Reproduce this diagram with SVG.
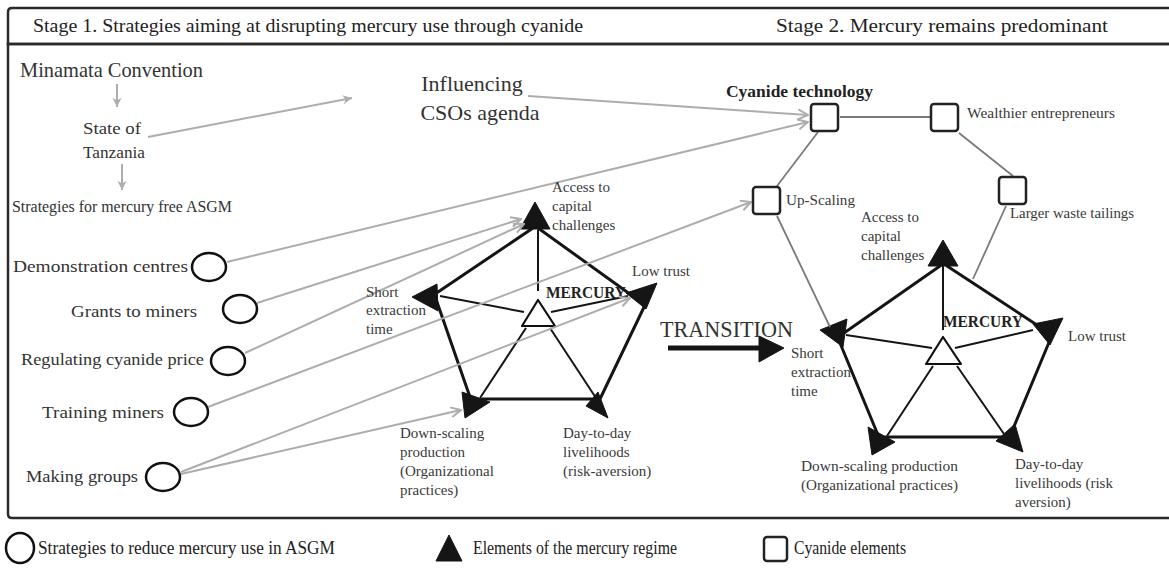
<svg xmlns="http://www.w3.org/2000/svg" width="1169" height="568" viewBox="0 0 1169 568">
<defs>
<style>
text{font-family:"Liberation Serif","DejaVu Serif",serif;fill:#333}
.hd{font-size:19px;fill:#222}
.big{font-size:22px;fill:#333}
.mid{font-size:17.5px;fill:#333}
.lg{font-size:18px;fill:#222}
.sm{font-size:15px;fill:#3a3a3a}
.bold{font-weight:bold;fill:#222}
.frame{fill:none;stroke:#2a2a2a;stroke-width:2.5}
.circ{fill:#fff;stroke:#111;stroke-width:2.5}
.box{fill:#fff;stroke:#222;stroke-width:2.5}
.tri{fill:#151515;stroke:#151515;stroke-width:1;stroke-linejoin:round}
.ctri{fill:#fff;stroke:#111;stroke-width:2.2;stroke-linejoin:round}
.edge{stroke:#151515;stroke-width:3;fill:none;stroke-linecap:round}
.inner{stroke:#151515;stroke-width:2;fill:none}
.gray{stroke:#adadad;stroke-width:2;fill:none}
.cy{stroke:#7a7a7a;stroke-width:1.8;fill:none}
</style>
<marker id="open" viewBox="0 0 12 12" refX="11" refY="6" markerWidth="12" markerHeight="12" markerUnits="userSpaceOnUse" orient="auto">
<polyline points="1,1 11,6 1,11" fill="none" stroke="#adadad" stroke-width="2"/>
</marker>
<marker id="fill" viewBox="0 0 12 12" refX="11" refY="6" markerWidth="11" markerHeight="11" markerUnits="userSpaceOnUse" orient="auto">
<path d="M1,1 L11,6 L1,11 L4,6 Z" fill="#adadad"/>
</marker>
</defs>
<rect width="1169" height="568" fill="#fff"/>

<g id="frame">
<path class="frame" d="M1180,8 H12 Q8,8 8,12 V44 H1180"/>
<path class="frame" d="M1180,44 H8 V514 Q8,518 12,518 H1180"/>
<text class="hd" x="33" y="32" textLength="550" lengthAdjust="spacingAndGlyphs">Stage 1. Strategies aiming at disrupting mercury use through cyanide</text>
<text class="hd" x="776" y="32" textLength="332" lengthAdjust="spacingAndGlyphs">Stage 2. Mercury remains predominant</text>
</g>

<g id="pentagon-left">
<line class="edge" x1="533" y1="228" x2="438" y2="292"/>
<line class="edge" x1="538" y1="228" x2="634" y2="297"/>
<line class="edge" x1="437" y1="302" x2="471" y2="400"/>
<line class="edge" x1="646" y1="303" x2="600" y2="399"/>
<line class="edge" x1="482" y1="399" x2="594" y2="399"/>
<line class="inner" x1="538" y1="230" x2="538" y2="291"/>
<line class="inner" x1="440" y1="296" x2="524" y2="312"/>
<line class="inner" x1="551" y1="312" x2="628" y2="296"/>
<line class="inner" x1="480" y1="398" x2="526" y2="328"/>
<line class="inner" x1="596" y1="398" x2="550" y2="328"/>
<polygon class="tri" points="535,202 520,229 550,229"/>
<polygon class="tri" points="412,297 437,284 438,311"/>
<polygon class="tri" points="626,293 657,283 646,309"/>
<polygon class="tri" points="462,392 490,402 465,418"/>
<polygon class="tri" points="598,392 608,418 586,406"/>
<polygon class="ctri" points="538,300 522,326 555,326"/>
<text class="bold" style="font-size:16px" x="546" y="298" textLength="80" lengthAdjust="spacingAndGlyphs">MERCURY</text>
</g>

<g id="pentagon-right">
<line class="edge" x1="940" y1="266" x2="844" y2="333"/>
<line class="edge" x1="947" y1="266" x2="1040" y2="327"/>
<line class="edge" x1="840" y1="343" x2="878" y2="435"/>
<line class="edge" x1="1050" y1="340" x2="1010" y2="436"/>
<line class="edge" x1="885" y1="437" x2="1003" y2="437"/>
<line class="inner" x1="943" y1="266" x2="943" y2="330"/>
<line class="inner" x1="846" y1="335" x2="932" y2="348"/>
<line class="inner" x1="1033" y1="330" x2="955" y2="348"/>
<line class="inner" x1="887" y1="436" x2="933" y2="366"/>
<line class="inner" x1="1004" y1="434" x2="957" y2="366"/>
<polygon class="tri" points="943,240 928,266 958,266"/>
<polygon class="tri" points="820,330 847,319 843,347"/>
<polygon class="tri" points="1033,324 1063,318 1050,345"/>
<polygon class="tri" points="868,427 895,442 872,455"/>
<polygon class="tri" points="1015,424 1023,452 996,441"/>
<polygon class="ctri" points="943,337 926,364 961,364"/>
<text class="bold" style="font-size:16px" x="943" y="327" textLength="80" lengthAdjust="spacingAndGlyphs">MERCURY</text>
</g>

<g id="connectors">
<line class="gray" x1="117" y1="84" x2="117" y2="107" marker-end="url(#fill)"/>
<line class="gray" x1="122" y1="164" x2="122" y2="190" marker-end="url(#fill)"/>
<line class="gray" x1="148" y1="137" x2="352" y2="98" marker-end="url(#fill)"/>
<line class="gray" x1="528" y1="96" x2="808" y2="115" marker-end="url(#open)"/>
<line class="gray" x1="227" y1="262" x2="808" y2="122" marker-end="url(#open)"/>
<line class="gray" x1="257" y1="303" x2="521" y2="219" marker-end="url(#open)"/>
<line class="gray" x1="245" y1="353" x2="524" y2="224" marker-end="url(#open)"/>
<line class="gray" x1="208" y1="407" x2="751" y2="202" marker-end="url(#open)"/>
<line class="gray" x1="181" y1="472" x2="630" y2="298" marker-end="url(#open)"/>
<line class="gray" x1="181" y1="474" x2="461" y2="410" marker-end="url(#open)"/>
<line class="cy" x1="840" y1="117" x2="931" y2="117"/>
<line class="cy" x1="818" y1="132" x2="777" y2="186"/>
<line class="cy" x1="959" y1="133" x2="1013" y2="176"/>
<line class="cy" x1="777" y1="216" x2="830" y2="327"/>
<line class="cy" x1="1006" y1="206" x2="973" y2="279"/>
<line stroke="#151515" stroke-width="5" x1="668" y1="348" x2="762" y2="348"/>
<polygon class="tri" points="759,336 784,348 759,362"/>
</g>

<g id="minamata"><text class="big" x="20" y="77" textLength="183" lengthAdjust="spacingAndGlyphs">Minamata Convention</text></g>
<g id="state"><text style="font-size:17px" x="83" y="134" textLength="58" lengthAdjust="spacingAndGlyphs">State of</text><text style="font-size:17px" x="83" y="158" textLength="62" lengthAdjust="spacingAndGlyphs">Tanzania</text></g>
<g id="strategies"><text class="mid" x="12" y="212" textLength="220" lengthAdjust="spacingAndGlyphs">Strategies for mercury free ASGM</text></g>
<g id="influencing"><text class="big" x="472" y="91" text-anchor="middle">Influencing</text><text class="big" x="480" y="120" text-anchor="middle">CSOs agenda</text></g>

<g id="demo"><text class="mid" x="13" y="272" textLength="175" lengthAdjust="spacingAndGlyphs">Demonstration centres</text><ellipse class="circ" cx="209" cy="267" rx="17" ry="14"/></g>
<g id="grants"><text class="mid" x="71" y="317" textLength="126" lengthAdjust="spacingAndGlyphs">Grants to miners</text><ellipse class="circ" cx="240" cy="309" rx="17" ry="14"/></g>
<g id="regulating"><text class="mid" x="21" y="365" textLength="183" lengthAdjust="spacingAndGlyphs">Regulating cyanide price</text><ellipse class="circ" cx="228" cy="361" rx="17" ry="14"/></g>
<g id="training"><text class="mid" x="42" y="418" textLength="122" lengthAdjust="spacingAndGlyphs">Training miners</text><ellipse class="circ" cx="191" cy="412" rx="17" ry="14"/></g>
<g id="making"><text class="mid" x="26" y="482" textLength="112" lengthAdjust="spacingAndGlyphs">Making groups</text><ellipse class="circ" cx="163" cy="477" rx="17" ry="14"/></g>

<g id="left-labels">
<text class="sm" x="552" y="192">Access to</text><text class="sm" x="552" y="211">capital</text><text class="sm" x="552" y="230">challenges</text>
<text class="sm" x="632" y="276">Low trust</text>
<text class="sm" x="366" y="297">Short</text><text class="sm" x="366" y="315">extraction</text><text class="sm" x="366" y="334">time</text>
<text class="sm" x="400" y="438">Down-scaling</text><text class="sm" x="400" y="457">production</text><text class="sm" x="400" y="476">(Organizational</text><text class="sm" x="400" y="495">practices)</text>
<text class="sm" x="563" y="438">Day-to-day</text><text class="sm" x="563" y="457">livelihoods</text><text class="sm" x="563" y="476">(risk-aversion)</text>
</g>

<g id="transition"><text x="660" y="337" style="font-size:24px" fill="#222" textLength="133" lengthAdjust="spacingAndGlyphs">TRANSITION</text></g>

<g id="cyanide-tech"><text class="bold" style="font-size:16px" x="726" y="97" textLength="147" lengthAdjust="spacingAndGlyphs">Cyanide technology</text><rect class="box" x="811" y="104" width="27" height="27" rx="3"/></g>
<g id="wealthier"><rect class="box" x="931" y="104" width="27" height="27" rx="3"/><text class="sm" x="967" y="118" textLength="148" lengthAdjust="spacingAndGlyphs">Wealthier entrepreneurs</text></g>
<g id="larger-waste"><rect class="box" x="999" y="177" width="27" height="27" rx="3"/><text class="sm" x="1010" y="218" textLength="124" lengthAdjust="spacingAndGlyphs">Larger waste tailings</text></g>
<g id="upscaling"><rect class="box" x="753" y="187" width="27" height="27" rx="3"/><text class="sm" x="786" y="205" textLength="69" lengthAdjust="spacingAndGlyphs">Up-Scaling</text></g>

<g id="right-labels">
<text class="sm" x="861" y="222">Access to</text><text class="sm" x="861" y="241">capital</text><text class="sm" x="861" y="260">challenges</text>
<text class="sm" x="1068" y="341">Low trust</text>
<text class="sm" x="791" y="358">Short</text><text class="sm" x="791" y="377">extraction</text><text class="sm" x="791" y="396">time</text>
<text class="sm" x="801" y="471" textLength="157" lengthAdjust="spacingAndGlyphs">Down-scaling  production</text><text class="sm" x="801" y="490" textLength="157" lengthAdjust="spacingAndGlyphs">(Organizational practices)</text>
<text class="sm" x="1015" y="469">Day-to-day</text><text class="sm" x="1015" y="488">livelihoods (risk</text><text class="sm" x="1015" y="507">aversion)</text>
</g>

<g id="legend">
<ellipse class="circ" cx="20" cy="548" rx="14" ry="15"/>
<text class="lg" x="38" y="554" textLength="297" lengthAdjust="spacingAndGlyphs">Strategies to reduce mercury use in ASGM</text>
<polygon class="tri" points="449,535 436,561 462,561"/>
<text class="lg" x="473" y="554" textLength="204" lengthAdjust="spacingAndGlyphs">Elements of the mercury regime</text>
<rect class="box" x="764" y="537" width="23" height="24" rx="3"/>
<text class="lg" x="794" y="554" textLength="112" lengthAdjust="spacingAndGlyphs">Cyanide elements</text>
</g>
</svg>
